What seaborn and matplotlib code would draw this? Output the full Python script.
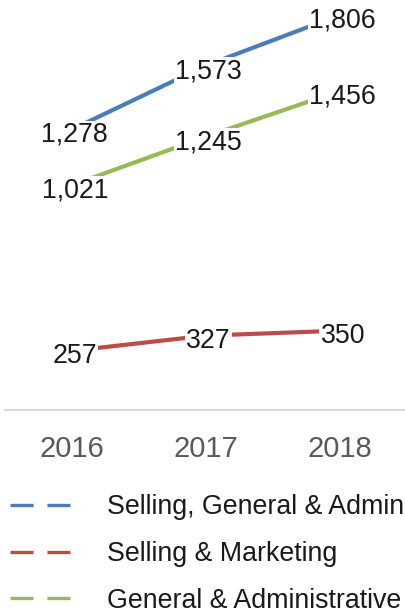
import matplotlib
matplotlib.use("Agg")
import matplotlib.pyplot as plt
from matplotlib.lines import Line2D
import seaborn as sns
import pandas as pd

years = ["2016", "2017", "2018"]
series_names = ["Selling, General & Administrative", "Selling & Marketing", "General & Administrative"]
sga = [1278, 1573, 1806]
sm = [257, 327, 350]
ga = [1021, 1245, 1456]
colors = ["#4a7ebb", "#be4b48", "#98b954"]

sns.set_theme(style="white")
plt.rcParams["font.family"] = ["Liberation Sans", "DejaVu Sans"]
plt.rcParams["lines.scale_dashes"] = False

rows = []
for name, vals in zip(series_names, [sga, sm, ga]):
    for i, (y, v) in enumerate(zip(years, vals)):
        rows.append({"Year": y, "idx": i, "Series": name, "Value": v})
df = pd.DataFrame(rows)

fig = plt.figure(figsize=(4.06, 6.13), dpi=100)
ax = fig.add_axes([5 / 406, 1 - 410 / 613, 402 / 406, 410 / 613])

sns.lineplot(data=df, x="idx", y="Value", hue="Series", palette=colors,
             linewidth=3.0, ax=ax, legend=False, solid_capstyle="butt", zorder=2)

for name, col in zip(series_names, colors):
    sub = df[df["Series"] == name]
    for _, r in sub.iterrows():
        ax.annotate(f"{r['Value']:,}", (r["idx"], r["Value"]), xytext=(2, -4),
                    textcoords="offset points", ha="center", va="center",
                    fontsize=19.3, color="#1a1a1a", zorder=3,
                    bbox=dict(boxstyle="square,pad=0.05", fc="white", ec="none"))

ax.set_xlim(-0.5, 2.5)
ax.set_ylim(-16, 1875)
ax.set_xticks(range(len(years)))
ax.set_xticklabels(years)
ax.set_yticks([])
ax.set_xlabel("")
ax.set_ylabel("")
ax.tick_params(axis="x", length=0, pad=18, labelsize=21, labelcolor="#595959")
for s in ["top", "right", "left"]:
    ax.spines[s].set_visible(False)
ax.spines["bottom"].set_color("#d9d9d9")
ax.spines["bottom"].set_linewidth(1.5)

handles = [Line2D([0], [0], color=c, linewidth=2.4, linestyle=(0, (16.6, 10)),
                  dash_capstyle="butt") for c in colors]
fig.legend(handles, series_names, loc="upper left",
           bbox_to_anchor=(10 / 406, 1 - 494 / 613), frameon=False,
           fontsize=19.3, labelcolor="#1a1a1a", borderpad=0, borderaxespad=0,
           handlelength=2.28, handletextpad=1.34, labelspacing=0.78)

fig.savefig("out.png", dpi=100)
